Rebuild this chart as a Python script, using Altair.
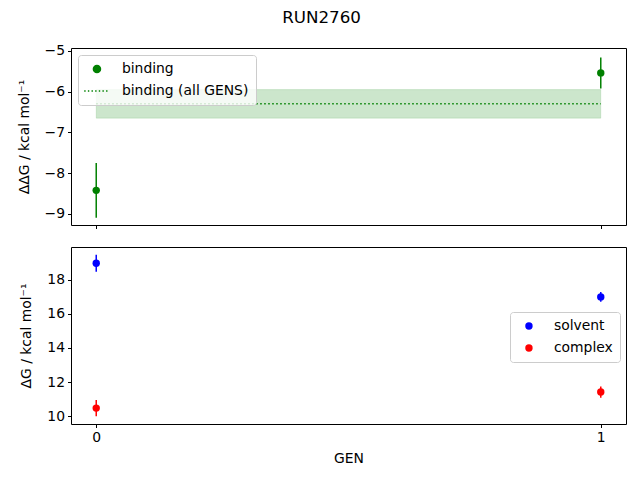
import altair as alt
import pandas as pd

# ---- data ----
gens = [0, 1]
binding = [-8.42, -5.54]
binding_err = [0.67, 0.38]
solvent = [18.96, 16.99]
solvent_err = [0.50, 0.28]
complex_vals = [10.48, 11.42]
complex_err = [0.47, 0.33]
all_gens_mean = -6.30
all_gens_err = 0.35

series_top = ["binding", "binding (all GENS)"]
series_bottom = ["solvent", "complex"]
colors_top = ["green", "green"]
colors_bottom = ["blue", "red"]
x_ticks = [0, 1]
top_y_ticks = [-9, -8, -7, -6, -5]
bottom_y_ticks = [10, 12, 14, 16, 18]
x_domain = [-0.05, 1.05]
top_y_domain = [-9.27, -4.93]
bottom_y_domain = [9.55, 19.91]

FONT = "DejaVu Sans"
LBL = 13.9
W, H = 555, 177

top_df = pd.DataFrame({"GEN": gens, "value": binding, "err": binding_err,
                       "series": series_top[0]})
band_df = pd.DataFrame({"GEN": [min(gens)], "GEN2": [max(gens)],
                        "mean": [all_gens_mean], "err": [all_gens_err],
                        "series": [series_top[1]]})
bottom_df = pd.concat([
    pd.DataFrame({"GEN": gens, "value": solvent, "err": solvent_err, "series": series_bottom[0]}),
    pd.DataFrame({"GEN": gens, "value": complex_vals, "err": complex_err, "series": series_bottom[1]}),
], ignore_index=True)

xscale = alt.Scale(domain=x_domain, nice=False, zero=False)


def x_axis(labels, title=None):
    kw = dict(values=x_ticks, tickSize=3.5, tickColor="black", tickWidth=1, domain=False,
              grid=False, labels=labels, labelFontSize=LBL, labelFont=FONT, labelColor="black",
              labelPadding=3, format="d")
    if title:
        kw.update(title=title, titleFont=FONT, titleFontSize=LBL, titleFontWeight="normal",
                  titleColor="black", titlePadding=7)
    else:
        kw.update(title=None)
    return alt.Axis(**kw)


def y_axis(values, title):
    return alt.Axis(values=values, tickSize=3.5, tickColor="black", tickWidth=1, domain=False,
                    grid=False, labelFontSize=LBL, labelFont=FONT, labelColor="black",
                    labelPadding=3, title=title, titleFont=FONT, titleFontSize=LBL,
                    titleFontWeight="normal", titleColor="black", titlePadding=13, format="d")


# ---- top panel ----
ty = alt.Scale(domain=top_y_domain, nice=False, zero=False)
band = alt.Chart(band_df).transform_calculate(
    lo="datum.mean - datum.err", hi="datum.mean + datum.err"
).mark_rect(fill="green", fillOpacity=0.2, stroke="green", strokeOpacity=0.12, strokeWidth=1).encode(
    x=alt.X("GEN:Q", scale=xscale, axis=x_axis(False)),
    x2="GEN2:Q",
    y=alt.Y("lo:Q", scale=ty, axis=y_axis(top_y_ticks, "ΔΔG / kcal mol⁻¹")),
    y2="hi:Q",
)
mean_line = alt.Chart(band_df).mark_rule(color="green", strokeWidth=1.5, strokeDash=[1.5, 2.5]).encode(
    x=alt.X("GEN:Q", scale=xscale),
    x2="GEN2:Q",
    y=alt.Y("mean:Q", scale=ty),
)
top_err = alt.Chart(top_df).transform_calculate(
    lo="datum.value - datum.err", hi="datum.value + datum.err"
).mark_rule(color="green", strokeWidth=1.5).encode(
    x=alt.X("GEN:Q", scale=xscale),
    y=alt.Y("lo:Q", scale=ty),
    y2="hi:Q",
)
dotted_path = "M-3.6,0H-3.2M-2.57,0H-2.17M-1.54,0H-1.14M-0.51,0H-0.11M0.52,0H0.92M1.55,0H1.95M2.58,0H2.98"
top_legend = alt.Legend(title=None, orient="top-left", offset=7, fillColor="rgba(255,255,255,0.8)",
                        strokeColor="#cccccc", cornerRadius=3, padding=7,
                        labelFont=FONT, labelFontSize=LBL, labelColor="black",
                        symbolSize=50, symbolStrokeColor="green", symbolFillColor="green",
                        symbolStrokeWidth=1.5, rowPadding=7, labelOffset=18, symbolOffset=5)
top_pts = alt.Chart(top_df).mark_point(filled=True, size=55, opacity=1).encode(
    x=alt.X("GEN:Q", scale=xscale),
    y=alt.Y("value:Q", scale=ty),
    color=alt.Color("series:N", scale=alt.Scale(domain=series_top, range=colors_top), legend=top_legend),
    shape=alt.Shape("series:N", scale=alt.Scale(domain=series_top, range=["circle", dotted_path]),
                    legend=top_legend),
)
top = alt.layer(band, mean_line, top_err, top_pts).properties(width=W, height=H)

# ---- bottom panel ----
by = alt.Scale(domain=bottom_y_domain, nice=False, zero=False)
bcolor = alt.Scale(domain=series_bottom, range=colors_bottom)
bot_legend = alt.Legend(title=None, orient="none", legendX=439, legendY=65,
                        fillColor="rgba(255,255,255,0.8)", strokeColor="#cccccc", cornerRadius=3,
                        padding=7, labelFont=FONT, labelFontSize=LBL, labelColor="black",
                        symbolSize=55, symbolType="circle", rowPadding=7, labelOffset=18,
                        symbolOffset=5, symbolStrokeWidth=0)
bot_err = alt.Chart(bottom_df).transform_calculate(
    lo="datum.value - datum.err", hi="datum.value + datum.err"
).mark_rule(strokeWidth=1.5).encode(
    x=alt.X("GEN:Q", scale=xscale, axis=x_axis(True, "GEN")),
    y=alt.Y("lo:Q", scale=by, axis=y_axis(bottom_y_ticks, "ΔG / kcal mol⁻¹")),
    y2="hi:Q",
    color=alt.Color("series:N", scale=bcolor, legend=bot_legend),
)
bot_pts = alt.Chart(bottom_df).mark_point(filled=True, size=55, opacity=1).encode(
    x=alt.X("GEN:Q", scale=xscale),
    y=alt.Y("value:Q", scale=by),
    color=alt.Color("series:N", scale=bcolor, legend=bot_legend),
)
bottom = alt.layer(bot_pts, bot_err).properties(width=W, height=H)

chart = alt.vconcat(top, bottom, spacing=16).resolve_scale(
    color="independent", shape="independent", y="independent"
).resolve_legend(color="independent", shape="independent").properties(
    title=alt.TitleParams("RUN2760", font=FONT, fontSize=16.7, fontWeight="normal", color="black",
                          anchor="middle", offset=17),
    padding={"left": 8, "top": 1, "right": 5, "bottom": 5},
    background="white",
).configure_view(stroke="black", strokeWidth=1)

chart.save("out.html", embed_options={"renderer": "svg", "actions": False})
